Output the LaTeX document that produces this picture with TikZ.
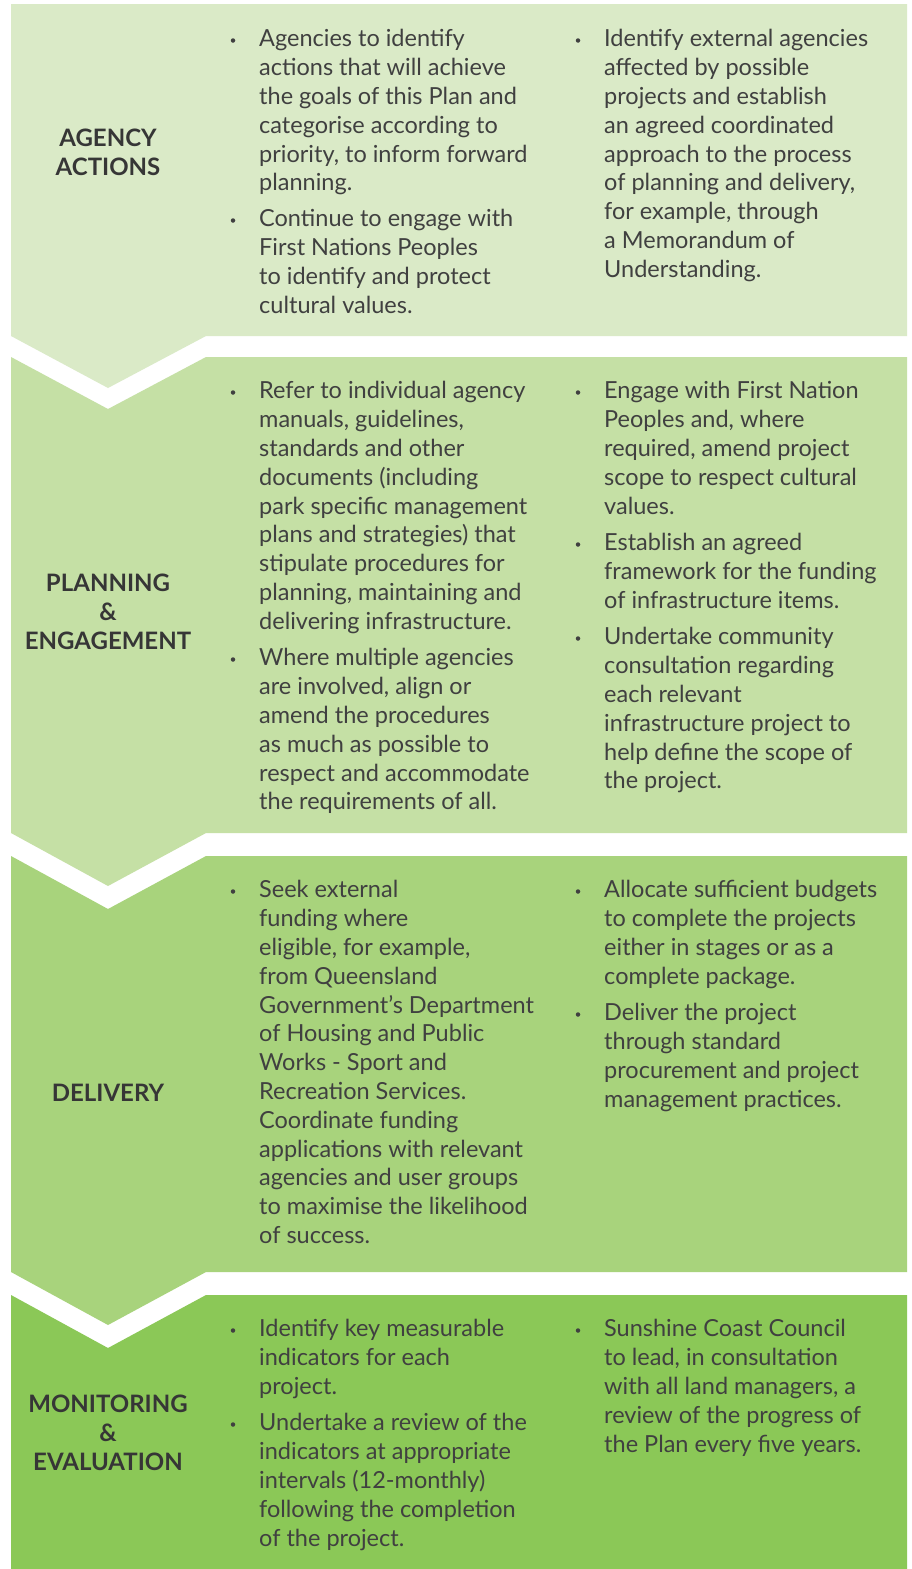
\documentclass[tikz,border=0pt]{standalone}
\usepackage{fontspec}
\setmainfont{Lato}
\definecolor{stageA}{HTML}{DAEAC7}
\definecolor{stageB}{HTML}{C5E0A5}
\definecolor{stageC}{HTML}{A8D37C}
\definecolor{stageD}{HTML}{8BC857}
\definecolor{ink}{HTML}{404040}
\begin{document}
\begin{tikzpicture}[x=1pt,y=-1pt,
  item/.style={anchor=north west,yshift=17.2pt,align=left,inner sep=0pt,text=ink,
    font=\fontsize{23.5}{28.8}\selectfont,execute at begin node=\strut},
  dot/.style={circle,fill=ink,inner sep=0pt,minimum size=4.5pt},
  stage/.style={align=center,inner sep=0pt,text=ink!85!black,font=\fontsize{24}{29.3}\selectfont\bfseries}]
\useasboundingbox[fill=white] (0,0) rectangle (911,1569);

\fill[stageA] (11,4) -- (907,4) -- (907,336) -- (206,336) -- (108,388) -- (11,336) -- cycle;
\fill[stageB] (11,357) -- (108,409) -- (206,357) -- (907,357) -- (907,833) -- (206,833) -- (108,886) -- (11,833) -- cycle;
\fill[stageC] (11,856) -- (108,909) -- (206,856) -- (907,856) -- (907,1272) -- (206,1272) -- (108,1325) -- (11,1272) -- cycle;
\fill[stageD] (11,1295) -- (108,1348) -- (206,1295) -- (907,1295) -- (907,1569) -- (11,1569) -- cycle;

\node[stage] (agency) at (108,152.5) {AGENCY\\ACTIONS};
\node[dot] (d1a) at (233,40.5) {};
\node[item] (i1a) at (259,46.5) {Agencies to identify\\actions that will achieve\\the goals of this Plan and\\categorise according to\\priority, to inform forward\\planning.};
\node[dot] (d1b) at (233,220.5) {};
\node[item] (i1b) at (259,226.5) {Continue to engage with\\First Nations Peoples\\to identify and protect\\cultural values.};
\node[dot] (d1c) at (578,40.5) {};
\node[item] (i1c) at (604,46.5) {Identify external agencies\\affected by possible\\projects and establish\\an agreed coordinated\\approach to the process\\of planning and delivery,\\for example, through\\a Memorandum of\\Understanding.};

\node[stage] (planning) at (108,612) {PLANNING\\\&\\ENGAGEMENT};
\node[dot] (d2a) at (233,392.5) {};
\node[item] (i2a) at (259,398.5) {Refer to individual agency\\manuals, guidelines,\\standards and other\\documents (including\\park specific management\\plans and strategies) that\\stipulate procedures for\\planning, maintaining and\\delivering infrastructure.};
\node[dot] (d2b) at (233,659.5) {};
\node[item] (i2b) at (259,665.5) {Where multiple agencies\\are involved, align or\\amend the procedures\\as much as possible to\\respect and accommodate\\the requirements of all.};
\node[dot] (d2c) at (578,392.5) {};
\node[item] (i2c) at (604,398.5) {Engage with First Nation\\Peoples and, where\\required, amend project\\scope to respect cultural\\values.};
\node[dot] (d2d) at (578,544.5) {};
\node[item] (i2d) at (604,550.5) {Establish an agreed\\framework for the funding\\of infrastructure items.};
\node[dot] (d2e) at (578,638.5) {};
\node[item] (i2e) at (604,644.5) {Undertake community\\consultation regarding\\each relevant\\infrastructure project to\\help define the scope of\\the project.};

\node[stage] (delivery) at (108,1093) {DELIVERY};
\node[dot] (d3a) at (233,891.5) {};
\node[item] (i3a) at (259,897.5) {Seek external\\funding where\\eligible, for example,\\from Queensland\\Government's Department\\of Housing and Public\\Works - Sport and\\Recreation Services.\\Coordinate funding\\applications with relevant\\agencies and user groups\\to maximise the likelihood\\of success.};
\node[dot] (d3b) at (578,891.5) {};
\node[item] (i3b) at (604,897.5) {Allocate sufficient budgets\\to complete the projects\\either in stages or as a\\complete package.};
\node[dot] (d3c) at (578,1014.5) {};
\node[item] (i3c) at (604,1020.5) {Deliver the project\\through standard\\procurement and project\\management practices.};

\node[stage] (monitoring) at (108,1433) {MONITORING\\\&\\EVALUATION};
\node[dot] (d4a) at (233,1330.5) {};
\node[item] (i4a) at (259,1336.5) {Identify key measurable\\indicators for each\\project.};
\node[dot] (d4b) at (233,1424.5) {};
\node[item] (i4b) at (259,1430.5) {Undertake a review of the\\indicators at appropriate\\intervals (12-monthly)\\following the completion\\of the project.};
\node[dot] (d4c) at (578,1330.5) {};
\node[item] (i4c) at (604,1336.5) {Sunshine Coast Council\\to lead, in consultation\\with all land managers, a\\review of the progress of\\the Plan every five years.};
\end{tikzpicture}
\end{document}
